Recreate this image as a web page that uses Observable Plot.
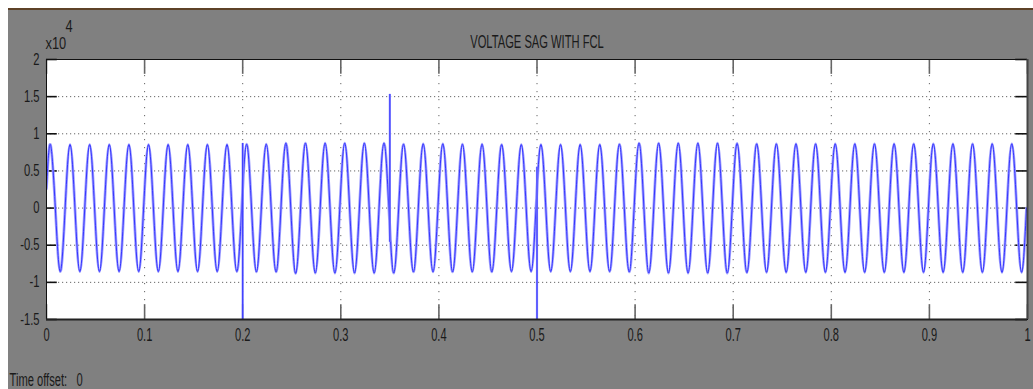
<!DOCTYPE html>
<html><head><meta charset="utf-8">
<script src="https://cdn.jsdelivr.net/npm/d3@7"></script>
<script src="https://cdn.jsdelivr.net/npm/@observablehq/plot@0.6"></script>
<style>
html,body{margin:0;padding:0;overflow:hidden;background:#fff;width:1033px;height:389px}
#bg{position:absolute;left:8px;top:8px;right:0;bottom:0;background:#808080;border-top:2px solid #5e4228}
#chart{position:absolute;left:0;top:0}
</style></head><body><div id="bg"></div><div id="chart"></div>
<script>
// ---- data (values in units of 10^4) ----
const xTicks = [0, 0.1, 0.2, 0.3, 0.4, 0.5, 0.6, 0.7, 0.8, 0.9, 1];
const xLabels = ["0", "0.1", "0.2", "0.3", "0.4", "0.5", "0.6", "0.7", "0.8", "0.9", "1"];
const yTicks = [-1.5, -1, -0.5, 0, 0.5, 1, 1.5, 2];
const yLabels = ["-1.5", "-1", "-0.5", "0", "0.5", "1", "1.5", "2"];
const titleText = "VOLTAGE SAG WITH FCL";
const exponentBase = "x10";
const exponentPower = "4";
const footerLabel = "Time offset:";
const footerValue = "0";

// 50 Hz waveform: one period, and where each cycle's
// peak / falling zero / trough / rising zero fall inside the period
const period = 0.02;
const cycleOffsets = [0.004, 0.009, 0.014, 0.019];
const startValue = 0.26;
// per-cycle positive peaks and negative troughs (x10^4)
const peaks = [
  0.855, 0.855, 0.855, 0.855, 0.855, 0.855, 0.855, 0.855, 0.855, 0.855,
  0.86, 0.86, 0.875, 0.875, 0.875, 0.875, 0.875, 0.875, 0.86, 0.865,
  0.865, 0.86, 0.86, 0.855, 0.855, 0.855, 0.855, 0.855, 0.855, 0.86,
  0.875, 0.875, 0.875, 0.875, 0.875, 0.87, 0.865, 0.865, 0.865, 0.865,
  0.865, 0.865, 0.865, 0.865, 0.865, 0.865, 0.865, 0.865, 0.865, 0.865
];
const troughs = [
  -0.855, -0.855, -0.855, -0.855, -0.855, -0.855, -0.855, -0.855, -0.855, -0.855,
  -0.86, -0.86, -0.88, -0.875, -0.875, -0.875, -0.875, -0.875, -0.86, -0.86,
  -0.86, -0.86, -0.86, -0.855, -0.855, -0.855, -0.855, -0.855, -0.855, -0.86,
  -0.875, -0.875, -0.875, -0.875, -0.875, -0.87, -0.865, -0.865, -0.865, -0.865,
  -0.865, -0.865, -0.865, -0.865, -0.865, -0.865, -0.865, -0.865, -0.865, -0.865
];
// transient spikes
const spikeTimes = [0.2, 0.35, 0.5];
const spikeLow = [-1.7, -0.46, -1.7];
const spikeHigh = [0.87, 1.53, 0.55];

// ---- build tables ----
const wave = [{t: 0, v: startValue}];
peaks.forEach((p, k) => {
  const base = k * period;
  wave.push({t: base + cycleOffsets[0], v: p});
  wave.push({t: base + cycleOffsets[1], v: 0});
  wave.push({t: base + cycleOffsets[2], v: troughs[k]});
  wave.push({t: base + cycleOffsets[3], v: 0});
});
const spikes = spikeTimes.map((t, i) => ({t, lo: spikeLow[i], hi: spikeHigh[i]}));
const footerText = footerLabel + "\u00a0\u00a0\u00a0" + footerValue;

const ink = "#1a1a1a";
const font = "'Liberation Sans', Arial, sans-serif";

// text marks, in order, with their horizontal squeeze factor
const textSpecs = [
  [Plot.text(xTicks, {x: d => d, y: -1.5, text: (d, i) => xLabels[i], dy: 8, lineAnchor: "top",
    fill: ink, fontSize: 18.5}), 0.6],
  [Plot.text(yTicks, {x: 0, y: d => d, text: (d, i) => yLabels[i], dx: -7, textAnchor: "end",
    lineAnchor: "middle", fill: ink, fontSize: 16}), 0.7],
  [Plot.text([titleText], {frameAnchor: "top", dy: -12, lineAnchor: "bottom", fill: ink, fontSize: 18}), 0.62],
  [Plot.text([exponentBase], {frameAnchor: "top-left", dx: -1, dy: -11, lineAnchor: "bottom", textAnchor: "start",
    fill: ink, fontSize: 16}), 0.8],
  [Plot.text([exponentPower], {frameAnchor: "top-left", dx: 19, dy: -28, lineAnchor: "bottom", textAnchor: "start",
    fill: ink, fontSize: 17}), 0.75],
  [Plot.text([footerText], {frameAnchor: "bottom-left", dx: -37, dy: 66, lineAnchor: "bottom", textAnchor: "start",
    fill: ink, fontSize: 18}), 0.62]
];

const chart = Plot.plot({
  width: 1033,
  height: 389,
  marginLeft: 46,
  marginRight: 6,
  marginTop: 59,
  marginBottom: 70,
  x: {domain: [0, 1], axis: null},
  y: {domain: [-1.5, 2], axis: null},
  style: {background: "transparent", fontFamily: font, overflow: "visible"},
  marks: [
    Plot.frame({fill: "white"}),
    // dotted grid
    Plot.ruleY(yTicks.slice(1, -1), {stroke: "#333", strokeOpacity: 0.75, strokeDasharray: "1.2,2.8"}),
    Plot.ruleX(xTicks.slice(1, -1), {stroke: "#333", strokeOpacity: 0.75, strokeDasharray: "1.2,6.8"}),
    // inward ticks
    Plot.ruleX(xTicks, {y1: -1.5, y2: -1.3, stroke: "#666", strokeWidth: 1.6}),
    Plot.ruleX(xTicks, {y1: 2, y2: 1.8, stroke: "#666", strokeWidth: 1.6}),
    Plot.ruleY(yTicks, {x1: 0, x2: 0.011, stroke: "#111", strokeWidth: 1.6}),
    Plot.ruleY(yTicks, {x1: 1, x2: 0.988, stroke: "#111", strokeWidth: 1.6}),
    // signal
    Plot.line(wave, {x: "t", y: "v", curve: "natural", stroke: "#a0a0ff", strokeWidth: 2.8, clip: true}),
    Plot.line(wave, {x: "t", y: "v", curve: "natural", stroke: "#3535ff", strokeWidth: 1, clip: true}),
    Plot.ruleX(spikes, {x: "t", y1: "lo", y2: "hi", stroke: "#9090ff", strokeWidth: 2.2, clip: true}),
    Plot.ruleX(spikes, {x: "t", y1: "lo", y2: "hi", stroke: "#3030ff", strokeWidth: 1, clip: true}),
    // frame
    Plot.frame({stroke: "#111"}),
    Plot.ruleY([-1.5], {stroke: "#222", strokeWidth: 2}),
    Plot.ruleX([1], {stroke: "#444", strokeWidth: 2}),
    ...textSpecs.map(d => d[0])
  ]
});
document.getElementById("chart").appendChild(chart);

// condense text horizontally to match the narrow scope font
const textGroups = Array.from(chart.querySelectorAll('g[aria-label="text"]'));
textGroups.forEach((g, gi) => {
  const f = textSpecs[gi] ? textSpecs[gi][1] : 0.65;
  const fs = parseFloat(g.getAttribute("font-size")) || 18;
  g.querySelectorAll("text").forEach(t => {
    let w = t.getComputedTextLength();
    if (!(w > 0)) w = t.textContent.length * fs * 0.55;
    t.setAttribute("textLength", (w * f).toFixed(2));
    t.setAttribute("lengthAdjust", "spacingAndGlyphs");
  });
});
</script></body></html>
